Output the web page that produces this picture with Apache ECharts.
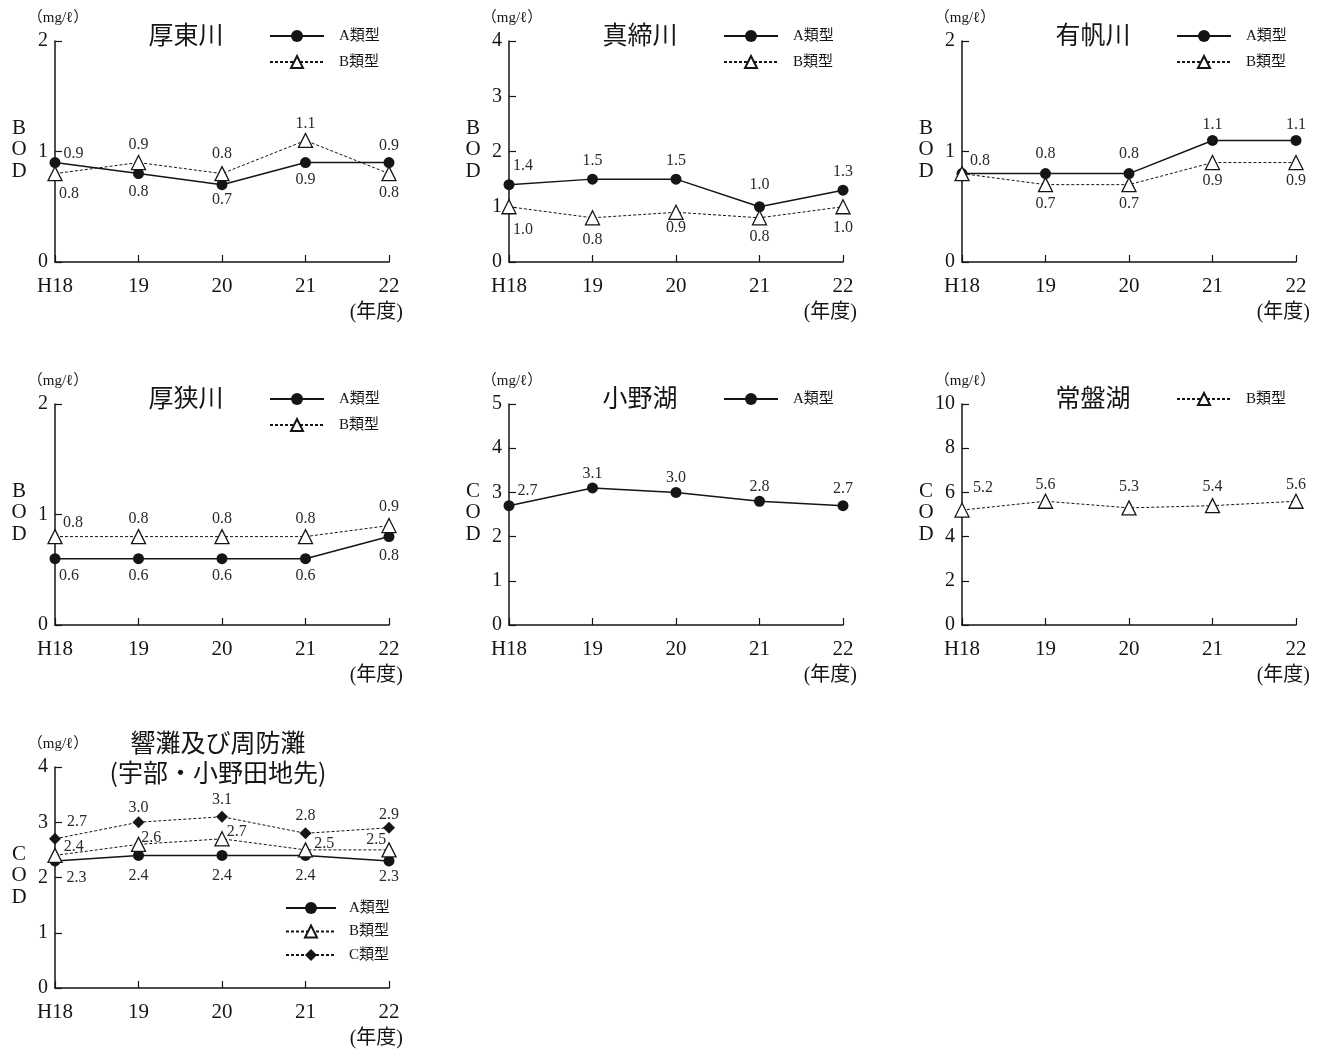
<!DOCTYPE html>
<html>
<head>
<meta charset="utf-8">
<script src="https://cdn.jsdelivr.net/npm/echarts@6/dist/echarts.min.js"></script>
<style>
html,body{margin:0;padding:0;background:#fff;}
#c{width:1320px;height:1050px;}
</style>
</head>
<body>
<div id="c"></div>
<script>
// ---- data ----
const years = ['H18', '19', '20', '21', '22'];
const kotoA = [0.9, 0.8, 0.7, 0.9, 0.9];
const kotoB = [0.8, 0.9, 0.8, 1.1, 0.8];
const mashimeA = [1.4, 1.5, 1.5, 1.0, 1.3];
const mashimeB = [1.0, 0.8, 0.9, 0.8, 1.0];
const arihoA = [0.8, 0.8, 0.8, 1.1, 1.1];
const arihoB = [0.8, 0.7, 0.7, 0.9, 0.9];
const asaA = [0.6, 0.6, 0.6, 0.6, 0.8];
const asaB = [0.8, 0.8, 0.8, 0.8, 0.9];
const onoA = [2.7, 3.1, 3.0, 2.8, 2.7];
const tokiwaB = [5.2, 5.6, 5.3, 5.4, 5.6];
const hibikiA = [2.3, 2.4, 2.4, 2.4, 2.3];
const hibikiB = [2.4, 2.6, 2.7, 2.5, 2.5];
const hibikiC = [2.7, 3.0, 3.1, 2.8, 2.9];
const titles = ['厚東川', '真締川', '有帆川', '厚狭川', '小野湖', '常盤湖', '響灘及び周防灘\n(宇部・小野田地先)'];
const yNames = ['BOD', 'BOD', 'BOD', 'BOD', 'COD', 'COD', 'COD'];
const yMax = [2, 4, 2, 2, 5, 10, 4];
const yStep = [1, 1, 1, 1, 1, 2, 1];
const typeNames = { A: 'A類型', B: 'B類型', C: 'C類型' };
const unitText = '（mg/ℓ）';
const yearUnit = '(年度)';

// which series per panel
const panelSeries = [
  { A: kotoA, B: kotoB },
  { A: mashimeA, B: mashimeB },
  { A: arihoA, B: arihoB },
  { A: asaA, B: asaB },
  { A: onoA },
  { B: tokiwaB },
  { A: hibikiA, B: hibikiB, C: hibikiC }
];

// ---- layout / style (no data) ----
const grids = [
  { left: 55, top: 41 }, { left: 509, top: 41 }, { left: 962, top: 41 },
  { left: 55, top: 404 }, { left: 509, top: 404 }, { left: 962, top: 404 },
  { left: 55, top: 767 }
];
const GW = 334, GH = 221;
// label placement: [position, dx, dy] ; null = hidden
const labelPlace = [
  { A: [['right', 0, -9], ['bottom', 0, 2], ['bottom', 0, -1], ['bottom', 0, 1], ['top']],
    B: [['bottom', 14, 2], ['top', 0, 1], ['top', 0, -1], ['top', 0, 2], ['bottom', 0, 1]] },
  { A: [['top', 14, -2], ['top', 0, -2], ['top', 0, -2], ['top', 0, -5], ['top', 0, -2]],
    B: [['bottom', 14, 4], ['bottom', 0, 3], ['bottom', 0, -3], ['bottom'], ['bottom', 0, 2]] },
  { A: [['top', 18, 4], ['top', 0, -3], ['top', 0, -3], ['top', 0, 1], ['top', 0, 1]],
    B: [null, ['bottom'], ['bottom'], ['bottom'], ['bottom']] },
  { A: [['bottom', 14, 1], ['bottom', 0, 1], ['bottom', 0, 1], ['bottom', 0, 1], ['bottom', 0, 3]],
    B: [['top', 18, 5], ['top', 0, 1], ['top', 0, 1], ['top', 0, 1], ['top', 0, 0]] },
  { A: [['right', 0, -15], ['top', 0, 2], ['top', 0, 2], ['top', 0, 2], ['top', 0, 0]] },
  { B: [['top', 21, -4], ['top', 0, 2], ['top', 0, -2], ['top', 0, 0], ['top', 0, 2]] },
  { A: [['right', 3, 17], ['bottom', 0, 4], ['bottom', 0, 4], ['bottom', 0, 4], ['bottom', 0, -1]],
    B: [['right', -2, -9], ['right', -8, -7], ['right', -6, -7], ['right', -2, -6], ['left', 8, -10]],
    C: [['right', 3, -17], ['top', 0, 3], ['top', 0, 0], ['top', 0, -1], ['top', 0, 4]] }
];
const legendPlace = [
  { dx: 214, dy: -12.5, gap: 11, w: 54, pad: 10 }, { dx: 214, dy: -12.5, gap: 11, w: 54, pad: 10 },
  { dx: 214, dy: -12.5, gap: 11, w: 54, pad: 10 }, { dx: 214, dy: -12.5, gap: 11, w: 54, pad: 10 },
  { dx: 214, dy: -12.5, gap: 11, w: 54, pad: 10 }, { dx: 214, dy: -12.5, gap: 11, w: 54, pad: 10 },
  { dx: 230, dy: 133.5, gap: 8.5, w: 50, pad: 8 }
];
const NUMFONT = "'Liberation Serif', 'Noto Sans CJK JP', serif";
const CJKFONT = "'Noto Sans CJK JP', 'Liberation Serif', sans-serif";
const INK = '#151515';
const seriesStyle = {
  A: { symbol: 'circle', symbolSize: 11, itemStyle: { color: INK, borderColor: INK, borderWidth: 0 },
       lineStyle: { color: INK, width: 1.5, type: 'solid' } },
  B: { symbol: 'triangle', symbolSize: 14, itemStyle: { color: '#fff', borderColor: INK, borderWidth: 1.3 },
       lineStyle: { color: INK, width: 1, type: [3, 2] } },
  C: { symbol: 'diamond', symbolSize: 12, itemStyle: { color: INK, borderColor: INK, borderWidth: 0 },
       lineStyle: { color: INK, width: 1, type: [3, 2] } }
};

// ---- build option ----
const option = {
  animation: false,
  backgroundColor: '#fff',
  grid: grids.map(g => ({ left: g.left, top: g.top, width: GW, height: GH, containLabel: false, outerBoundsMode: 'none' })),
  xAxis: grids.map((g, i) => ({
    type: 'category', gridIndex: i, data: years, boundaryGap: false,
    axisLine: { show: true, lineStyle: { color: INK, width: 1.5 } },
    axisTick: { show: true, inside: true, length: 7, interval: 0, lineStyle: { color: INK, width: 1.2 } },
    axisLabel: { interval: 0, margin: 14, fontSize: 21, fontFamily: NUMFONT, color: INK },
    splitLine: { show: false }
  })),
  yAxis: grids.map((g, i) => ({
    type: 'value', gridIndex: i, min: 0, max: yMax[i], interval: yStep[i],
    name: unitText, nameLocation: 'end', nameGap: 15,
    nameTextStyle: { fontSize: 15, fontFamily: NUMFONT, color: INK, align: 'center', padding: [0, 0, 0, 6] },
    axisLine: { show: true, lineStyle: { color: INK, width: 1.5 } },
    axisTick: { show: true, inside: true, length: 7, lineStyle: { color: INK, width: 1.2 } },
    axisLabel: { margin: 7, fontSize: 20, fontFamily: NUMFONT, color: INK },
    splitLine: { show: false }
  })),
  legend: grids.map((g, i) => ({
    data: Object.keys(panelSeries[i]).map(k => typeNames[k]),
    orient: 'vertical', left: g.left + legendPlace[i].dx, top: g.top + legendPlace[i].dy,
    itemWidth: legendPlace[i].w, itemHeight: 15, itemGap: legendPlace[i].gap, padding: 0,
    selectedMode: false,
    textStyle: { fontSize: 15, fontFamily: NUMFONT, color: INK, padding: [0, 0, 0, legendPlace[i].pad] }
  })),
  series: [],
  graphic: []
};

grids.forEach((g, i) => {
  Object.keys(panelSeries[i]).forEach(k => {
    const vals = panelSeries[i][k];
    const places = labelPlace[i][k];
    const st = seriesStyle[k];
    option.series.push({
      type: 'line', name: typeNames[k], xAxisIndex: i, yAxisIndex: i,
      symbol: st.symbol, symbolSize: st.symbolSize, showAllSymbol: true,
      itemStyle: st.itemStyle, lineStyle: st.lineStyle,
      emphasis: { disabled: true },
      label: { show: true, fontSize: 16, fontFamily: NUMFONT, color: '#2a2a2a', distance: 3,
               formatter: p => Number(p.value).toFixed(1) },
      data: vals.map((v, j) => {
        const pl = places[j];
        if (!pl) return { value: v, label: { show: false } };
        return { value: v, label: { position: pl[0], offset: [pl[1] || 0, pl[2] || 0] } };
      })
    });
  });

  // title
  const multi = titles[i].indexOf('\n') >= 0;
  option.graphic.push({
    type: 'text',
    x: g.left + (multi ? 163 : 131), y: g.top + (multi ? -10 : -7),
    style: { text: titles[i], fontSize: 25, fontFamily: CJKFONT, fill: INK,
             align: 'center', verticalAlign: 'middle', lineHeight: 30 }
  });
  // vertical axis name (letters)
  option.graphic.push({
    type: 'text', x: g.left - 36, y: g.top + GH / 2 - 2,
    style: { text: yNames[i].split('').join('\n'), fontSize: 21, fontFamily: NUMFONT, fill: INK,
             align: 'center', verticalAlign: 'middle', lineHeight: 21.5 }
  });
  // year unit
  option.graphic.push({
    type: 'text', x: g.left + 348, y: g.top + GH + 51,
    style: { text: yearUnit, fontSize: 20, fontFamily: NUMFONT, fill: INK,
             align: 'right', verticalAlign: 'middle' }
  });
});

const chart = echarts.init(document.getElementById('c'), null, { renderer: 'canvas' });
chart.setOption(option);
</script>
</body>
</html>
